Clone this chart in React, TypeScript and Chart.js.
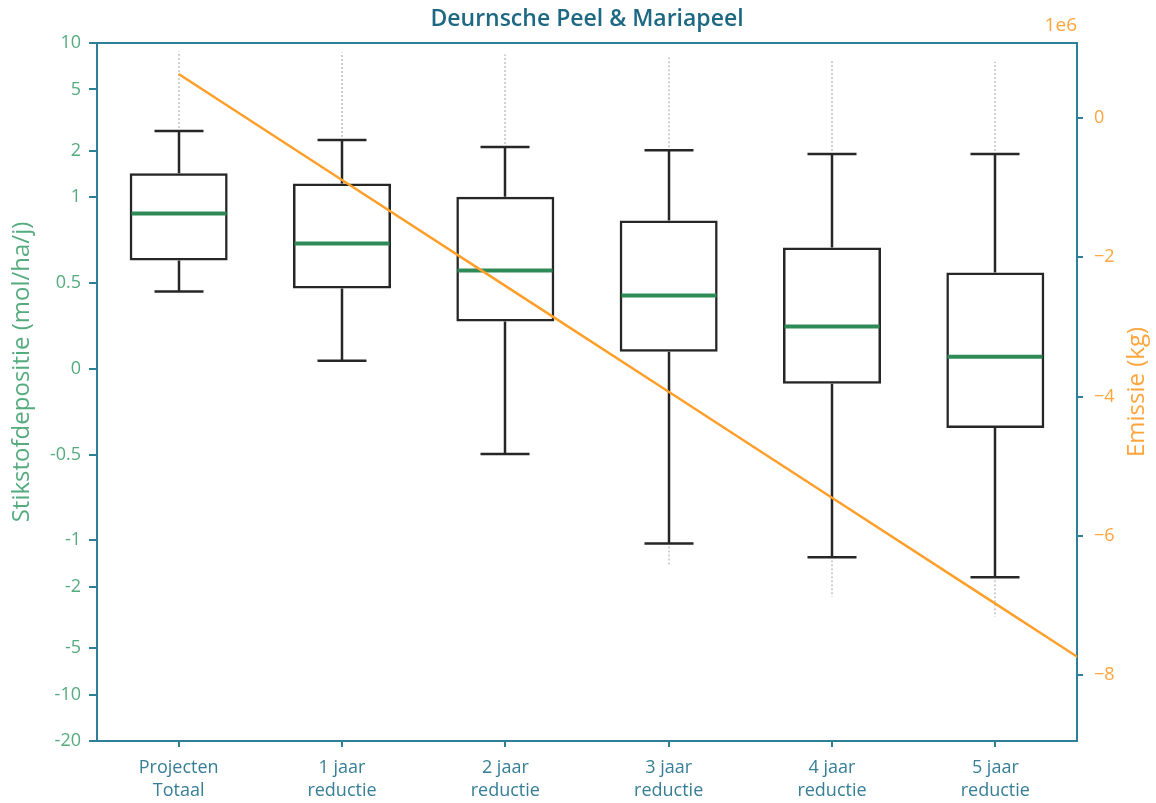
import React, { useEffect, useRef } from 'react';
import { Chart, registerables, Scale } from 'chart.js';

// ---------- data ----------
const categories: string[][] = [
  ['Projecten', 'Totaal'],
  ['1 jaar', 'reductie'],
  ['2 jaar', 'reductie'],
  ['3 jaar', 'reductie'],
  ['4 jaar', 'reductie'],
  ['5 jaar', 'reductie'],
];
const whiskerLow = [0.45, 0.047, -0.497, -1.05, -1.29, -1.74];
const q1 = [0.632, 0.468, 0.275, 0.099, -0.088, -0.345];
const median = [0.906, 0.731, 0.573, 0.427, 0.246, 0.07];
const q3 = [1.43, 1.23, 1.01, 0.865, 0.708, 0.561];
const whiskerHigh = [2.69, 2.35, 2.12, 2.02, 1.91, 1.91];
const flierHigh = [8.8, 8.67, 8.42, 8.05, 7.81, 7.57];
const flierLow: (number | null)[] = [null, null, null, -1.48, -2.32, -3.13];

const emissionX = [0, 1, 2, 3, 4, 5, 6];
const emission = [632000, -889000, -2410000, -3931000, -5452000, -6973000, -8494000];

const leftTicks = [-20, -10, -5, -2, -1, -0.5, 0, 0.5, 1, 2, 5, 10];
const leftTickLabels = ['-20', '-10', '-5', '-2', '-1', '-0.5', '0', '0.5', '1', '2', '5', '10'];
const rightTicks = [-8e6, -6e6, -4e6, -2e6, 0];
const rightTickLabels = ['\u22128', '\u22126', '\u22124', '\u22122', '0'];

const title = 'Deurnsche Peel & Mariapeel';
const leftTitle = 'Stikstofdepositie (mol/ha/j)';
const rightTitle = 'Emissie (kg)';
const offsetText = '1e6';

// ---------- styles ----------
const FONT = '"Open Sans", "Noto Sans", sans-serif';
const TEAL = '#2f7f98';
const TITLE_C = '#1d6883';
const XLAB = '#367e96';
const GREEN_T = '#55ab7e';
const GREEN_M = '#2e8b57';
const ORANGE_T = '#ffa53c';
const ORANGE_L = '#ff9f2a';
const BOX_C = '#262626';

// ---------- symlog scale ----------
const LINSCALE = 1 / (1 - 1 / 10);
function symT(v: number) {
  const a = Math.abs(v);
  return a <= 1 ? v * LINSCALE : Math.sign(v) * (LINSCALE + Math.log10(a));
}
function symInv(t: number) {
  const a = Math.abs(t);
  return a <= LINSCALE ? t / LINSCALE : Math.sign(t) * Math.pow(10, a - LINSCALE);
}

class SymlogScale extends Scale {
  static id = 'symlog';
  static defaults = {};
  determineDataLimits() {
    const o: any = this.options;
    (this as any).min = o.min;
    (this as any).max = o.max;
  }
  buildTicks() {
    return leftTicks.map((v) => ({ value: v }));
  }
  getLabelForValue(v: number) {
    return String(v);
  }
  getPixelForValue(v: number) {
    const t0 = symT((this as any).min);
    const t1 = symT((this as any).max);
    return this.getPixelForDecimal((symT(v) - t0) / (t1 - t0));
  }
  getValueForPixel(p: number) {
    const t0 = symT((this as any).min);
    const t1 = symT((this as any).max);
    return symInv(t0 + this.getDecimalForPixel(p) * (t1 - t0));
  }
}

Chart.register(...registerables, SymlogScale as any);

const boxPlugin = {
  id: 'boxWhiskers',
  afterDatasetDraw(chart: any, args: any) {
    if (args.index !== 0) return;
    const { ctx } = chart;
    const xs = chart.scales.x;
    const ys = chart.scales.y;
    const step = xs.getPixelForValue(1) - xs.getPixelForValue(0);
    const half = (step * 0.6) / 2;
    ctx.save();
    categories.forEach((_, i) => {
      const cx = Math.round(xs.getPixelForValue(i));
      // fliers
      ctx.strokeStyle = 'rgba(100,100,100,0.4)';
      ctx.lineWidth = 1.5;
      ctx.setLineDash([2, 2]);
      ctx.beginPath();
      ctx.moveTo(cx, ys.getPixelForValue(whiskerHigh[i]) - 3);
      ctx.lineTo(cx, ys.getPixelForValue(flierHigh[i]));
      const fl = flierLow[i];
      if (fl !== null) {
        ctx.moveTo(cx, ys.getPixelForValue(whiskerLow[i]) + 3);
        ctx.lineTo(cx, ys.getPixelForValue(fl));
      }
      ctx.stroke();
      ctx.setLineDash([]);
      // whiskers and caps
      ctx.strokeStyle = BOX_C;
      ctx.lineWidth = 2.5;
      ctx.beginPath();
      ctx.moveTo(cx, ys.getPixelForValue(q3[i]));
      ctx.lineTo(cx, ys.getPixelForValue(whiskerHigh[i]));
      ctx.moveTo(cx, ys.getPixelForValue(q1[i]));
      ctx.lineTo(cx, ys.getPixelForValue(whiskerLow[i]));
      const yh = ys.getPixelForValue(whiskerHigh[i]);
      const yl = ys.getPixelForValue(whiskerLow[i]);
      ctx.moveTo(cx - half / 2, yh);
      ctx.lineTo(cx + half / 2, yh);
      ctx.moveTo(cx - half / 2, yl);
      ctx.lineTo(cx + half / 2, yl);
      ctx.stroke();
      // median
      ctx.strokeStyle = GREEN_M;
      ctx.lineWidth = 4;
      ctx.beginPath();
      const ym = ys.getPixelForValue(median[i]);
      ctx.moveTo(cx - half + 1.5, ym);
      ctx.lineTo(cx + half - 1.5, ym);
      ctx.stroke();
    });
    ctx.restore();
  },
};

const decorPlugin = {
  id: 'decor',
  afterDraw(chart: any) {
    const { ctx, chartArea } = chart;
    ctx.save();
    // top spine
    ctx.strokeStyle = TEAL;
    ctx.lineWidth = 2;
    ctx.beginPath();
    ctx.moveTo(chartArea.left - 1, chartArea.top);
    ctx.lineTo(chartArea.right + 1, chartArea.top);
    ctx.stroke();
    // title
    ctx.fillStyle = TITLE_C;
    ctx.font = `600 23px ${FONT}`;
    ctx.textAlign = 'center';
    ctx.textBaseline = 'middle';
    ctx.fillText(title, (chartArea.left + chartArea.right) / 2, 19);
    // offset text
    ctx.fillStyle = ORANGE_T;
    ctx.font = `19px ${FONT}`;
    ctx.textAlign = 'right';
    ctx.textBaseline = 'middle';
    ctx.fillText(offsetText, chartArea.right, 26);
    // left title
    ctx.save();
    ctx.translate(22, (chartArea.top + chartArea.bottom) / 2 - 20);
    ctx.rotate(-Math.PI / 2);
    ctx.fillStyle = GREEN_T;
    ctx.font = `24px ${FONT}`;
    ctx.textAlign = 'center';
    ctx.textBaseline = 'middle';
    ctx.fillText(leftTitle, 0, 0);
    ctx.restore();
    // right title
    ctx.save();
    ctx.translate(1137, (chartArea.top + chartArea.bottom) / 2);
    ctx.rotate(-Math.PI / 2);
    ctx.fillStyle = ORANGE_T;
    ctx.font = `24px ${FONT}`;
    ctx.textAlign = 'center';
    ctx.textBaseline = 'middle';
    ctx.fillText(rightTitle, 0, 0);
    ctx.restore();
    ctx.restore();
  },
};

export default function App() {
  const ref = useRef<HTMLCanvasElement | null>(null);
  useEffect(() => {
    if (!ref.current) return;
    const chart = new Chart(ref.current, {
      type: 'bar',
      data: {
        datasets: [
          {
            type: 'bar',
            data: categories.map((_, i) => ({ x: i, y: [q1[i], q3[i]] })) as any,
            xAxisID: 'x',
            yAxisID: 'y',
            backgroundColor: 'rgba(255,255,255,0)',
            borderColor: BOX_C,
            borderWidth: 2.5,
            borderSkipped: false,
            barPercentage: 0.6,
            categoryPercentage: 1,
            order: 1,
          } as any,
          {
            type: 'line',
            data: emissionX.map((x, i) => ({ x, y: emission[i] })) as any,
            xAxisID: 'x',
            yAxisID: 'y2',
            borderColor: ORANGE_L,
            borderWidth: 2.5,
            pointRadius: 0,
            tension: 0,
            clip: 0,
            order: 0,
          } as any,
        ],
      },
      options: {
        animation: false,
        responsive: true,
        maintainAspectRatio: false,
        layout: { padding: { top: 43, left: 0, right: 0, bottom: 0 } },
        plugins: { legend: { display: false }, tooltip: { enabled: false }, title: { display: false } },
        scales: {
          x: {
            type: 'linear',
            min: -0.5,
            max: 5.5,
            offset: false,
            afterBuildTicks: (s: any) => {
              s.ticks = categories.map((_, i) => ({ value: i }));
            },
            afterFit: (s: any) => {
              s.height = 62;
            },
            grid: { display: true, offset: false, drawOnChartArea: false, drawTicks: true, tickLength: 6, color: TEAL, lineWidth: 2 },
            border: { display: true, color: TEAL, width: 2 },
            ticks: {
              color: XLAB,
              font: { family: FONT, size: 18, lineHeight: 1.25 },
              padding: 10,
              autoSkip: false,
              maxRotation: 0,
              callback: (v: any) => categories[Math.round(Number(v))] ?? '',
            },
          },
          y: {
            type: 'symlog' as any,
            position: 'left',
            min: -20,
            max: 10,
            afterFit: (s: any) => {
              s.width = 97;
            },
            grid: { display: true, drawOnChartArea: false, drawTicks: true, tickLength: 8, color: TEAL, lineWidth: 2 },
            border: { display: true, color: TEAL, width: 2 },
            ticks: {
              color: GREEN_T,
              font: { family: FONT, size: 18 },
              padding: 8,
              autoSkip: false,
              callback: (v: any) => {
                const k = leftTicks.indexOf(Number(v));
                return k >= 0 ? leftTickLabels[k] : '';
              },
            },
          } as any,
          y2: {
            type: 'linear',
            position: 'right',
            min: -8.945e6,
            max: 1.077e6,
            afterBuildTicks: (s: any) => {
              s.ticks = rightTicks.map((v) => ({ value: v }));
            },
            afterFit: (s: any) => {
              s.width = 79;
            },
            grid: { display: true, drawOnChartArea: false, drawTicks: true, tickLength: 6, color: TEAL, lineWidth: 2 },
            border: { display: true, color: TEAL, width: 2 },
            ticks: {
              color: ORANGE_T,
              font: { family: FONT, size: 18 },
              padding: 11,
              autoSkip: false,
              callback: (v: any) => {
                const k = rightTicks.indexOf(Number(v));
                return k >= 0 ? rightTickLabels[k] : '';
              },
            },
          },
        },
      },
      plugins: [boxPlugin, decorPlugin],
    } as any);
    return () => chart.destroy();
  }, []);
  return (
    <div style={{ position: 'fixed', left: 0, top: 0, width: 1156, height: 803, background: '#fff' }}>
      <canvas ref={ref} />
    </div>
  );
}
